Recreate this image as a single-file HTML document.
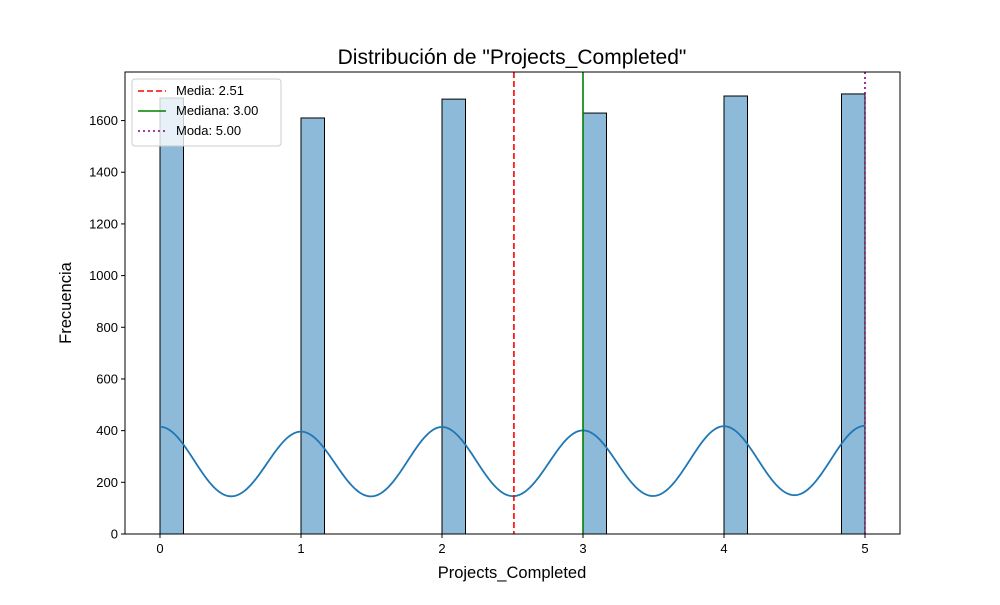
<!DOCTYPE html>
<html><head><meta charset="utf-8"><style>
body{margin:0;background:#fff}
svg text{font-family:"Liberation Sans","DejaVu Sans",sans-serif}
</style></head><body>
<svg id="c" width="1000" height="600" xmlns="http://www.w3.org/2000/svg"></svg>
<script>
const categories=[0,1,2,3,4,5];
const counts=[1687,1610,1683,1629,1695,1703];
const yTicks=[0,200,400,600,800,1000,1200,1400,1600];
const xTicks=[0,1,2,3,4,5];
const stats=[{label:"Media: 2.51",v:2.51,color:"red",dash:"6,3"},{label:"Mediana: 3.00",v:3.0,color:"green",dash:""},{label:"Moda: 5.00",v:5.0,color:"purple",dash:"2,3"}];
const L=125,R=900,T=72,B=534;
const X=v=>160+v*141;
const Y=v=>B-v*0.2584;
const svg=document.getElementById('c');
const NS="http://www.w3.org/2000/svg";
function mk(t,a,p){const e=document.createElementNS(NS,t);for(const k in a)e.setAttribute(k,a[k]);(p||svg).appendChild(e);return e;}
const bw=1/6;
categories.forEach((c,i)=>{
 const x0=c===5?c-bw:c;
 const r=mk('rect',{x:X(x0),y:Y(counts[i]),width:X(x0+bw)-X(x0),height:B-Y(counts[i]),fill:'#8dbad9',stroke:'#000','stroke-width':1});
 
 
});
const s=0.27,A=0.2456;
let d='';
for(let k=0;k<=300;k++){const x=5*k/300;let y=0;categories.forEach((c,i)=>{y+=counts[i]*A*Math.exp(-(x-c)*(x-c)/(2*s*s));});d+=(k?'L':'M')+X(x).toFixed(2)+','+Y(y).toFixed(2);}
const kde=mk('path',{d:d,fill:'none',stroke:'#1f77b4','stroke-width':1.8});


stats.forEach(st=>{
 const l=mk('line',{x1:X(st.v),x2:X(st.v),y1:T,y2:B,stroke:st.color,'stroke-width':1.6,'stroke-dasharray':st.dash});
 
 
});
const fr=mk('rect',{x:L,y:T,width:R-L,height:B-T,fill:'none',stroke:'#000','stroke-width':1});


yTicks.forEach(v=>{
 mk('line',{x1:L-4,x2:L,y1:Y(v),y2:Y(v),stroke:'#000'});
 const t=mk('text',{x:L-7,y:Y(v)+4.5,'text-anchor':'end','font-size':13});t.textContent=v;
 
 
});
xTicks.forEach(v=>{
 mk('line',{x1:X(v),x2:X(v),y1:B,y2:B+4,stroke:'#000'});
 const t=mk('text',{x:X(v),y:B+19,'text-anchor':'middle','font-size':13});t.textContent=v;
 
 
});
let t=mk('text',{x:512,y:64,'text-anchor':'middle','font-size':21});t.textContent='Distribución de "Projects_Completed"';


t=mk('text',{x:512,y:578,'text-anchor':'middle','font-size':16.5});t.textContent='Projects_Completed';


t=mk('text',{x:71,y:303,'text-anchor':'middle','font-size':16.5,transform:'rotate(-90 71 303)'});t.textContent='Frecuencia';


const lg=mk('g',{});


mk('rect',{x:132,y:79,width:149,height:67,rx:3,fill:'#fff','fill-opacity':0.8,stroke:'#ccc'},lg);
stats.forEach((st,i)=>{
 const y=91+i*20;
 mk('line',{x1:138,x2:166,y1:y,y2:y,stroke:st.color,'stroke-width':1.6,'stroke-dasharray':st.dash},lg);
 const tt=mk('text',{x:176,y:y+4,'font-size':13},lg);tt.textContent=st.label;
 
 
});
</script>
</body></html>
